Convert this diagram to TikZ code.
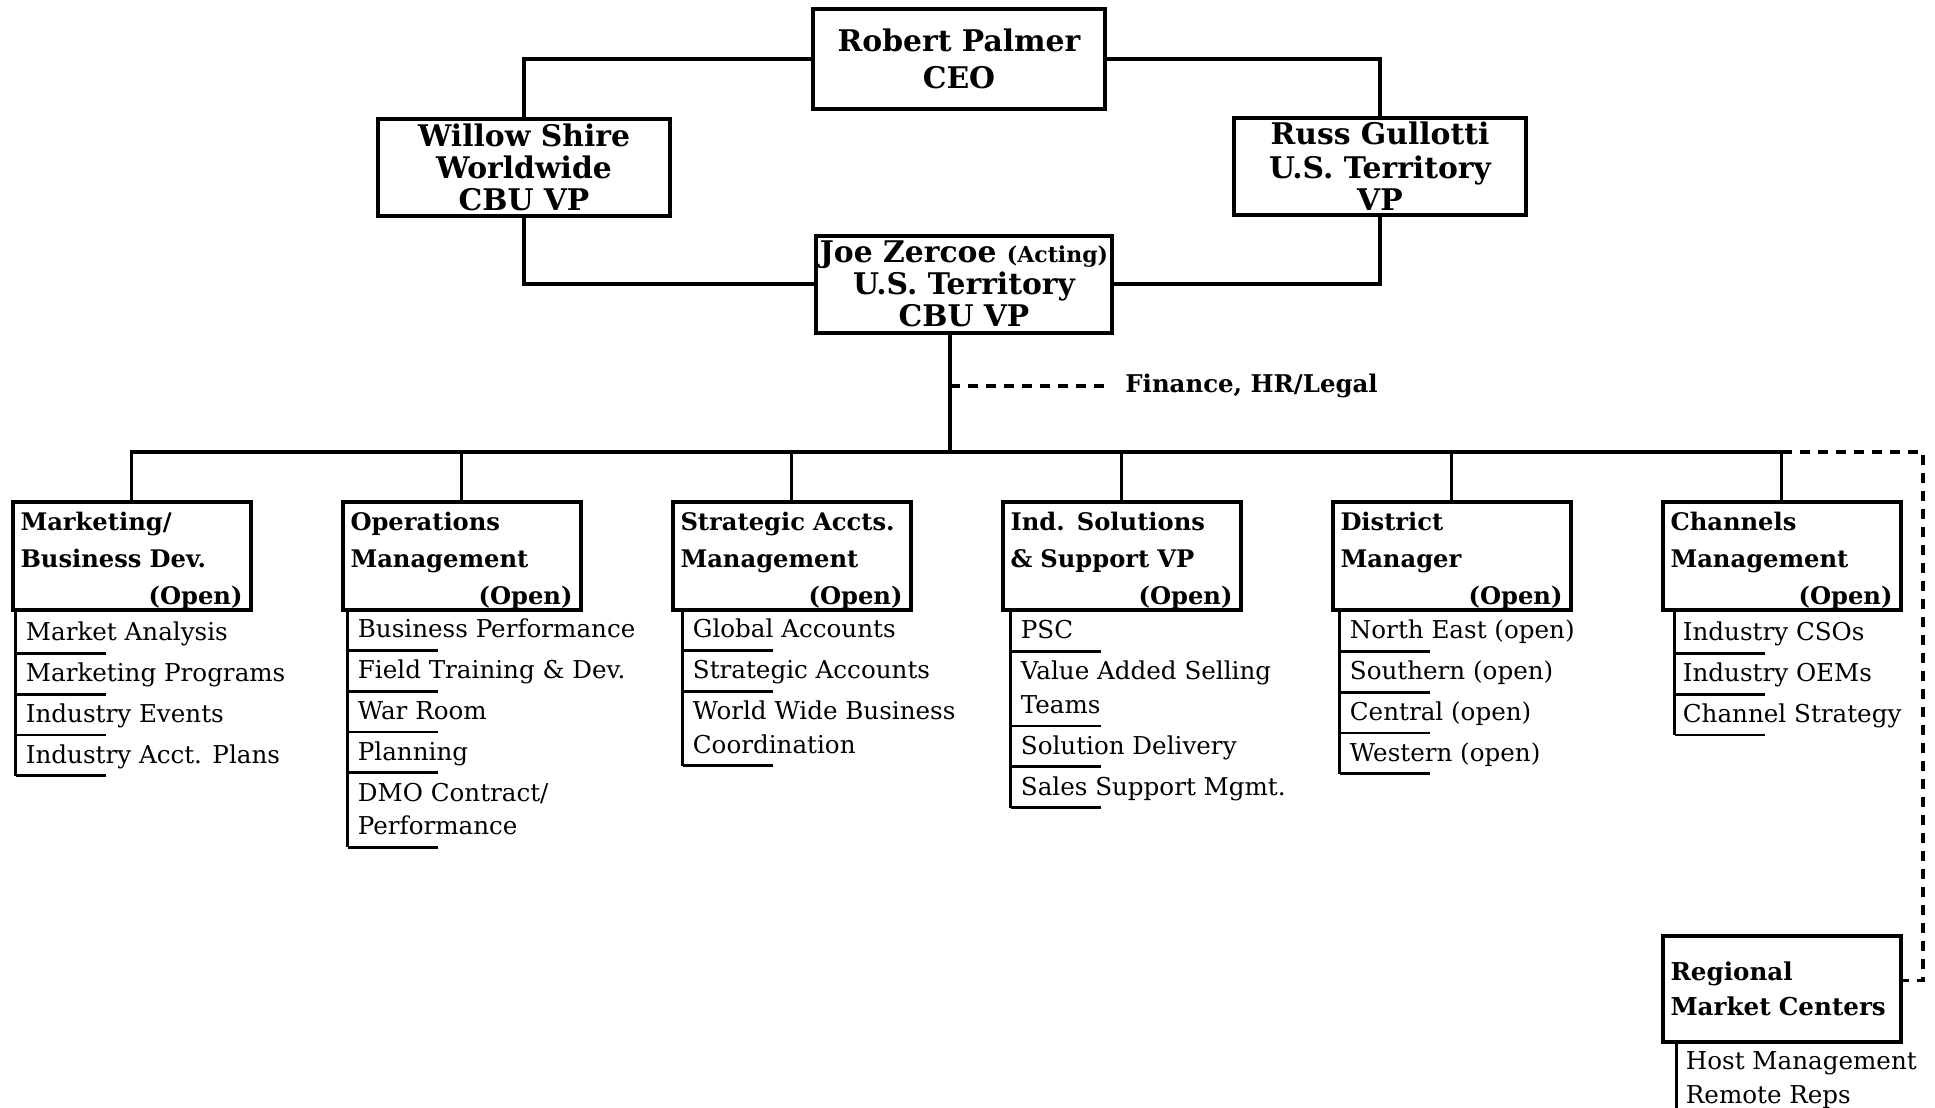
\documentclass[tikz,border=0pt]{standalone}
\usepackage{fontspec}
\setmainfont{DejaVu Serif}
\usetikzlibrary{positioning}

\newcommand{\topline}{\rule{0pt}{14pt}}
\newcommand{\openmark}{\hspace*{\fill}(Open)\hspace*{-3.5pt}}
\newcommand{\unitfont}{\fontsize{12.1}{18.5}\selectfont\bfseries\hyphenpenalty=10000\relax}

\begin{document}
\begin{tikzpicture}[
  x=0.5pt, y=-0.5pt,
  topbox/.style={rectangle, draw, line width=2pt, minimum width=146pt,
                 minimum height=48.5pt, inner sep=2pt, align=center,
                 font=\fontsize{14.9}{16}\selectfont\bfseries},
  unit/.style={rectangle, draw, line width=2pt, minimum height=53pt,
               inner xsep=4pt, inner ysep=0pt, text width=111pt, align=left,
               font=\unitfont},
  item/.style={inner sep=0pt, anchor=north west, text height=9pt,
               text depth=6pt, font=\fontsize{12.3}{14}\selectfont},
  nextitem/.style={below=5pt of #1.south west, anchor=north west},
  wrapline/.style={below=1.5pt of #1.south west, anchor=north west},
  link/.style={line width=1.6pt},
  dotlink/.style={line width=1.6pt, dash pattern=on 5pt off 4pt},
  tick/.style={line width=1.4pt},
  node distance=44pt
]
  \useasboundingbox (0,0) rectangle (1935,1108);

  % Top tier
  \node[topbox, minimum height=50pt] (ceo) at (959,59) {Robert Palmer\\[2.5pt]CEO};
  \node[topbox] (willow) at (524,167.5) {Willow Shire\\Worldwide\\CBU VP};
  \node[topbox] (russ) at (1380,166) {Russ Gullotti\\[1pt]U.S. Territory\\VP};
  \node[topbox] (joe) at (964,284)
    {Joe Zercoe {\fontsize{11}{11}\selectfont(Acting)}\\U.S. Territory\\CBU VP};

  \draw[link] (ceo.west) -| (willow.north);
  \draw[link] (ceo.east) -| (russ.north);
  \draw[link] (willow.south) |- (joe.west);
  \draw[link] (russ.south) |- (joe.east);

  % Staff line
  \coordinate (bus) at (950,452);
  \draw[link] (joe.south -| bus) -- (bus);
  \node[anchor=west, inner sep=0pt, font=\fontsize{12.2}{14}\selectfont\bfseries]
    (fin) at (1125,386) {Finance, HR/Legal};
  \draw[dotlink, shorten >=7pt] (fin.west -| bus) -- (fin.west);

  % Departments (left to right)
  \node[unit] (mkt) at (131.5,556)
    {\topline Marketing/\\Business Dev.\\\openmark};
  \node[unit, right=of mkt] (ops)
    {\topline Operations\\Management\\\openmark};
  \node[unit, right=of ops] (sam)
    {\topline Strategic Accts.\\Management\\\openmark};
  \node[unit, right=of sam] (isv)
    {\topline Ind. Solutions\\\& Support VP\\\openmark};
  \node[unit, right=of isv] (dm)
    {\topline District\\Manager\\\openmark};
  \node[unit, right=of dm] (chn)
    {\topline Channels\\Management\\\openmark};
  \node[unit, below=161pt of chn, font=\fontsize{12.3}{17.5}\selectfont\bfseries]
    (rmc) {Regional\\Market Centers};

  \draw[link] (mkt.north) |- (bus) -| (chn.north);
  \foreach \d in {ops,sam,isv,dm}
    \draw[link] (\d.north) -- (\d.north |- bus);
  \coordinate (dcorner) at (1923,452);
  \draw[dotlink] (chn.north |- bus) -- (dcorner) |- ([yshift=4pt]rmc.east);

  % Sub-functions
  \coordinate (mktl) at ([xshift=2.5pt]mkt.south west);
  \node[item, below right=5.5pt and 5pt of mktl] (mkt1) {Market Analysis};
  \node[item, nextitem=mkt1] (mkt2) {Marketing Programs};
  \node[item, nextitem=mkt2] (mkt3) {Industry Events};
  \node[item, nextitem=mkt3] (mkt4) {Industry Acct. Plans};
  \draw[tick] (mktl) -- (mktl |- mkt4.south);
  \foreach \n in {mkt1,mkt2,mkt3,mkt4}
    \draw[tick] (mktl |- \n.south) -- ++(45pt,0);

  \coordinate (opsl) at ([xshift=3.5pt]ops.south west);
  \node[item, below right=4pt and 5pt of opsl] (ops1) {Business Performance};
  \node[item, nextitem=ops1] (ops2) {Field Training \& Dev.};
  \node[item, nextitem=ops2] (ops3) {War Room};
  \node[item, nextitem=ops3] (ops4) {Planning};
  \node[item, nextitem=ops4] (ops5) {DMO Contract/};
  \node[item, wrapline=ops5] (ops6) {Performance};
  \draw[tick] (opsl) -- (opsl |- ops6.south);
  \foreach \n in {ops1,ops2,ops3,ops4,ops6}
    \draw[tick] (opsl |- \n.south) -- ++(45pt,0);

  \coordinate (saml) at ([xshift=6pt]sam.south west);
  \node[item, below right=4pt and 5pt of saml] (sam1) {Global Accounts};
  \node[item, nextitem=sam1] (sam2) {Strategic Accounts};
  \node[item, nextitem=sam2] (sam3) {World Wide Business};
  \node[item, wrapline=sam3] (sam4) {Coordination};
  \draw[tick] (saml) -- (saml |- sam4.south);
  \foreach \n in {sam1,sam2,sam4}
    \draw[tick] (saml |- \n.south) -- ++(45pt,0);

  \coordinate (isvl) at ([xshift=5pt]isv.south west);
  \node[item, below right=4.5pt and 5pt of isvl] (isv1) {PSC};
  \node[item, nextitem=isv1] (isv2) {Value Added Selling};
  \node[item, wrapline=isv2] (isv3) {Teams};
  \node[item, nextitem=isv3] (isv4) {Solution Delivery};
  \node[item, nextitem=isv4] (isv5) {Sales Support Mgmt.};
  \draw[tick] (isvl) -- (isvl |- isv5.south);
  \foreach \n in {isv1,isv3,isv4,isv5}
    \draw[tick] (isvl |- \n.south) -- ++(45pt,0);

  \coordinate (dml) at ([xshift=4.5pt]dm.south west);
  \node[item, below right=4.5pt and 5pt of dml] (dm1) {North East (open)};
  \node[item, nextitem=dm1] (dm2) {Southern (open)};
  \node[item, nextitem=dm2] (dm3) {Central (open)};
  \node[item, nextitem=dm3] (dm4) {Western (open)};
  \draw[tick] (dml) -- (dml |- dm4.south);
  \foreach \n in {dm1,dm2,dm3,dm4}
    \draw[tick] (dml |- \n.south) -- ++(45pt,0);

  \coordinate (chnl) at ([xshift=7pt]chn.south west);
  \node[item, below right=5.5pt and 4pt of chnl] (chn1) {Industry CSOs};
  \node[item, nextitem=chn1] (chn2) {Industry OEMs};
  \node[item, nextitem=chn2] (chn3) {Channel Strategy};
  \draw[tick] (chnl) -- (chnl |- chn3.south);
  \foreach \n in {chn1,chn2,chn3}
    \draw[tick] (chnl |- \n.south) -- ++(45pt,0);

  \coordinate (rmcl) at ([xshift=8pt]rmc.south west);
  \node[item, below right=4pt and 4.5pt of rmcl] (rmc1) {Host Management};
  \node[item, wrapline=rmc1] (rmc2) {Remote Reps};
  \draw[tick] (rmcl) -- (rmcl |- rmc2.south);
\end{tikzpicture}
\end{document}
